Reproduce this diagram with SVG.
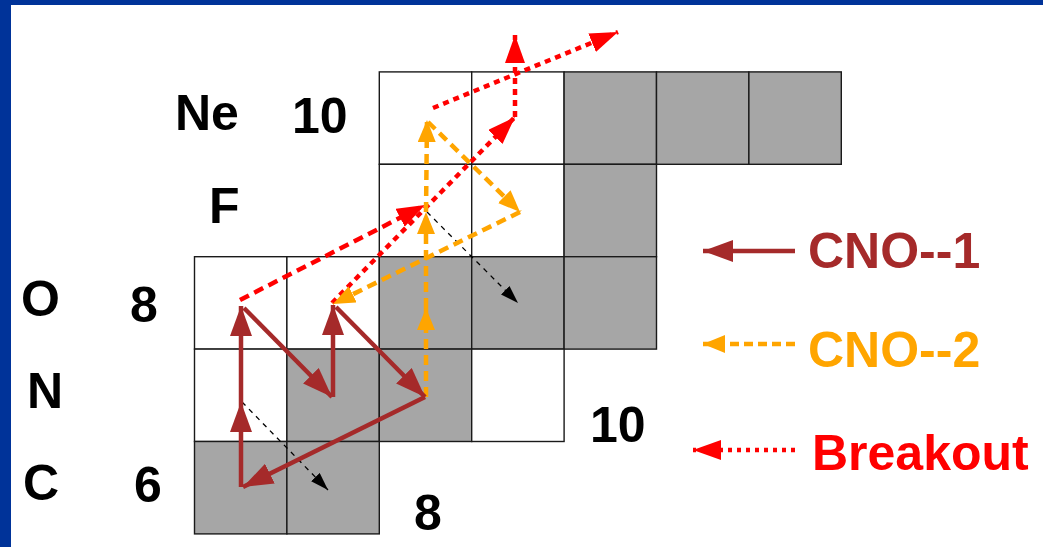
<svg xmlns="http://www.w3.org/2000/svg" width="1043" height="547" viewBox="0 0 1043 547">
  <defs>
    <style>
      .cw { fill: #ffffff; stroke: #1a1a1a; stroke-width: 1.4; }
      .cg { fill: #a6a6a6; stroke: #1a1a1a; stroke-width: 1.4; }
      .lbl { font-family: "Liberation Sans", Arial, sans-serif; font-weight: bold; font-size: 50px; fill: #000; }
      .brown { stroke: #a52a2a; stroke-width: 4.5; fill: none; }
      .orange { stroke: #ffa500; stroke-width: 4.5; fill: none; stroke-dasharray: 10 6; }
      .redDash { stroke: #ff0000; stroke-width: 4.5; fill: none; stroke-dasharray: 10 6; }
      .redDot { stroke: #ff0000; stroke-width: 4.5; fill: none; stroke-dasharray: 6 5; }
      .black { stroke: #000; stroke-width: 1.3; fill: none; stroke-dasharray: 5 5; }
    </style>
    <marker id="mB" markerUnits="userSpaceOnUse" markerWidth="32" markerHeight="24" refX="30" refY="11" orient="auto">
      <path d="M0,0 L30,11 L0,22 z" fill="#a52a2a"/>
    </marker>
    <marker id="mO" markerUnits="userSpaceOnUse" markerWidth="24" markerHeight="20" refX="22" refY="9" orient="auto">
      <path d="M0,0 L22,9 L0,18 z" fill="#ffa500"/>
    </marker>
    <marker id="mR" markerUnits="userSpaceOnUse" markerWidth="30" markerHeight="22" refX="28" refY="10" orient="auto">
      <path d="M0,0 L28,10 L0,20 z" fill="#ff0000"/>
    </marker>
    <marker id="mK" markerUnits="userSpaceOnUse" markerWidth="20" markerHeight="14" refX="18" refY="6" orient="auto">
      <path d="M0,0 L18,6 L0,12 z" fill="#000"/>
    </marker>
  </defs>

  <rect x="0" y="0" width="1043" height="547" fill="#ffffff"/>
  <rect x="0" y="0" width="1043" height="5" fill="#003399"/>
  <rect x="0" y="0" width="11" height="547" fill="#003399"/>

  <g id="grid">
    <!-- row Ne -->
    <rect class="cw" x="379.3" y="71.9" width="92.4" height="92.4"/>
    <rect class="cw" x="471.7" y="71.9" width="92.4" height="92.4"/>
    <rect class="cg" x="564.1" y="71.9" width="92.4" height="92.4"/>
    <rect class="cg" x="656.5" y="71.9" width="92.4" height="92.4"/>
    <rect class="cg" x="748.9" y="71.9" width="92.4" height="92.4"/>
    <!-- row F -->
    <rect class="cw" x="379.3" y="164.3" width="92.4" height="92.4"/>
    <rect class="cw" x="471.7" y="164.3" width="92.4" height="92.4"/>
    <rect class="cg" x="564.1" y="164.3" width="92.4" height="92.4"/>
    <!-- row O -->
    <rect class="cw" x="194.5" y="256.7" width="92.4" height="92.4"/>
    <rect class="cw" x="286.9" y="256.7" width="92.4" height="92.4"/>
    <rect class="cg" x="379.3" y="256.7" width="92.4" height="92.4"/>
    <rect class="cg" x="471.7" y="256.7" width="92.4" height="92.4"/>
    <rect class="cg" x="564.1" y="256.7" width="92.4" height="92.4"/>
    <!-- row N -->
    <rect class="cw" x="194.5" y="349.1" width="92.4" height="92.4"/>
    <rect class="cg" x="286.9" y="349.1" width="92.4" height="92.4"/>
    <rect class="cg" x="379.3" y="349.1" width="92.4" height="92.4"/>
    <rect class="cw" x="471.7" y="349.1" width="92.4" height="92.4"/>
    <!-- row C -->
    <rect class="cg" x="194.5" y="441.5" width="92.4" height="92.4"/>
    <rect class="cg" x="286.9" y="441.5" width="92.4" height="92.4"/>
  </g>

  <g id="labels">
    <text class="lbl" x="175" y="130">Ne</text>
    <text class="lbl" x="292" y="133">10</text>
    <text class="lbl" x="209" y="223">F</text>
    <text class="lbl" x="21" y="316">O</text>
    <text class="lbl" x="130" y="322">8</text>
    <text class="lbl" x="27" y="408">N</text>
    <text class="lbl" x="23" y="500">C</text>
    <text class="lbl" x="134" y="502">6</text>
    <text class="lbl" x="590" y="442">10</text>
    <text class="lbl" x="414" y="530">8</text>
  </g>

  <g id="connectors">
    <!-- black thin dashed -->
    <line class="black" x1="242" y1="402" x2="328" y2="490" marker-end="url(#mK)"/>
    <line class="black" x1="427" y1="212" x2="518" y2="303" marker-end="url(#mK)"/>
    <!-- red breakout -->
    <line class="redDash" x1="240" y1="300" x2="425" y2="205" marker-end="url(#mR)"/>
    <line class="redDot" x1="332" y1="303" x2="515" y2="117" marker-end="url(#mR)"/>
    <line class="redDot" x1="515" y1="117" x2="515" y2="35" marker-end="url(#mR)"/>
    <line class="redDot" x1="433" y1="108" x2="618" y2="32" marker-end="url(#mR)"/>
    <!-- orange CNO-2 -->
    <line class="orange" x1="426" y1="397" x2="426" y2="308" marker-end="url(#mO)"/>
    <line class="orange" x1="426" y1="308" x2="426" y2="212" marker-end="url(#mO)"/>
    <line class="orange" x1="426" y1="212" x2="427" y2="120" marker-end="url(#mO)"/>
    <line class="orange" x1="428" y1="122" x2="520" y2="212" marker-end="url(#mO)"/>
    <line class="orange" x1="520" y1="212" x2="333" y2="304" marker-end="url(#mO)"/>
    <!-- brown CNO-1 -->
    <line class="brown" x1="241" y1="487" x2="241" y2="402" marker-end="url(#mB)"/>
    <line class="brown" x1="241" y1="402" x2="241" y2="306" marker-end="url(#mB)"/>
    <line class="brown" x1="244" y1="308" x2="332" y2="397" marker-end="url(#mB)"/>
    <line class="brown" x1="333" y1="397" x2="333" y2="305" marker-end="url(#mB)"/>
    <line class="brown" x1="336" y1="307" x2="425" y2="397" marker-end="url(#mB)"/>
    <line class="brown" x1="425" y1="397" x2="243" y2="487" marker-end="url(#mB)"/>
  </g>

  <g id="legend">
    <g id="legend-cno1">
      <line class="brown" x1="795" y1="251" x2="703" y2="251" marker-end="url(#mB)"/>
      <text class="lbl" x="808" y="268" style="fill:#a52a2a">CNO--1</text>
    </g>
    <g id="legend-cno2">
      <line class="orange" x1="795" y1="344" x2="703" y2="344" style="stroke-dasharray:9 5" marker-end="url(#mO)"/>
      <text class="lbl" x="808" y="367" style="fill:#ffa500">CNO--2</text>
    </g>
    <g id="legend-breakout">
      <line class="redDot" x1="795" y1="450" x2="693" y2="450" style="stroke-dasharray:4 5" marker-end="url(#mR)"/>
      <text class="lbl" x="812" y="470" style="fill:#ff0000">Breakout</text>
    </g>
  </g>
</svg>
